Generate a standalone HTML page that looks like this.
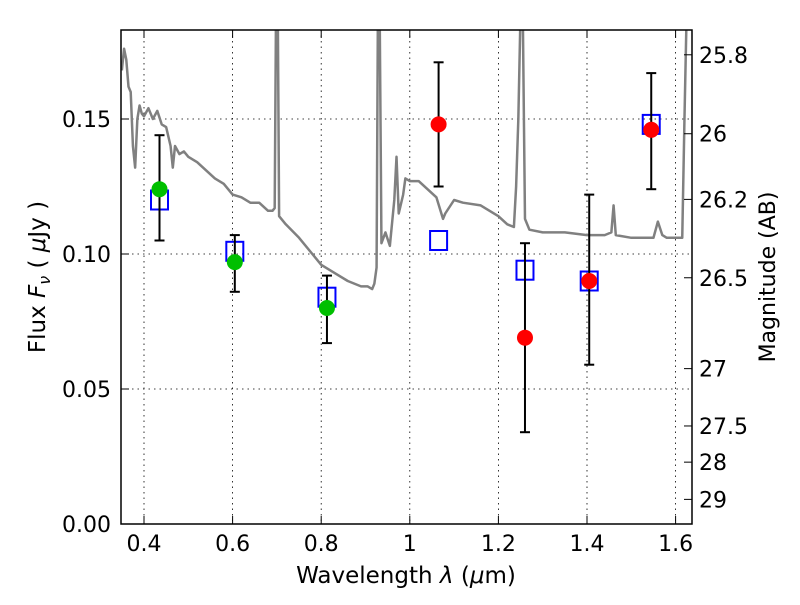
<!DOCTYPE html>
<html><head><meta charset="utf-8"><style>
body{margin:0;background:#fff}
svg text{font-family:"DejaVu Sans","Liberation Sans",sans-serif;fill:#000}
</style></head><body>
<svg id="chart" width="800" height="600" xmlns="http://www.w3.org/2000/svg">
<defs><clipPath id="clip"><rect x="121" y="30" width="571" height="494"/></clipPath></defs>
<g id="grid"></g>
<g id="spec" clip-path="url(#clip)"></g>
<g id="marks" clip-path="url(#clip)"></g>
<rect x="121" y="30" width="571" height="494" fill="none" stroke="#000" stroke-width="1.5"/>
<g id="axes"></g>
<text x="406" y="583" font-size="23" text-anchor="middle">Wavelength  <tspan font-style="italic">λ</tspan> (<tspan font-style="italic">μ</tspan>m)</text>
<text transform="translate(45,277) rotate(-90)" font-size="23" text-anchor="middle">Flux  <tspan font-style="italic">F</tspan><tspan font-style="italic" font-size="16" dy="5">ν</tspan><tspan dy="-5">  (  </tspan><tspan font-style="italic">μ</tspan>Jy )</text>
<text transform="translate(775,277) rotate(-90)" font-size="22" text-anchor="middle">Magnitude (AB)</text>
</svg>
<script>
const xTicks=[0.4,0.6,0.8,1.0,1.2,1.4,1.6];
const xTickLabels=["0.4","0.6","0.8","1","1.2","1.4","1.6"];
const yTicks=[0,0.05,0.10,0.15];
const yTickLabels=["0.00","0.05","0.10","0.15"];
const magTicks=[25.8,26,26.2,26.5,27,27.5,28,29];
const magTickLabels=["25.8","26","26.2","26.5","27","27.5","28","29"];
const specWave=[0.35,0.355,0.36,0.365,0.37,0.375,0.38,0.385,0.39,0.395,0.40,0.41,0.42,0.43,0.44,0.45,0.46,0.465,0.47,0.48,0.49,0.50,0.52,0.54,0.56,0.58,0.60,0.62,0.64,0.66,0.68,0.69,0.695,0.698,0.702,0.705,0.72,0.75,0.78,0.80,0.83,0.86,0.89,0.905,0.915,0.92,0.925,0.928,0.932,0.936,0.945,0.955,0.965,0.97,0.975,0.985,0.99,1.0,1.02,1.04,1.06,1.075,1.08,1.10,1.12,1.16,1.20,1.22,1.235,1.24,1.245,1.25,1.255,1.26,1.27,1.30,1.35,1.40,1.44,1.455,1.46,1.465,1.50,1.55,1.56,1.57,1.58,1.615,1.62,1.625];
const specFlux=[0.168,0.176,0.172,0.162,0.160,0.140,0.132,0.150,0.155,0.152,0.151,0.154,0.150,0.153,0.148,0.147,0.140,0.132,0.140,0.137,0.138,0.136,0.134,0.131,0.128,0.126,0.122,0.121,0.119,0.119,0.116,0.116,0.117,0.19,0.19,0.114,0.111,0.106,0.100,0.096,0.093,0.090,0.088,0.088,0.087,0.089,0.095,0.19,0.19,0.104,0.108,0.103,0.120,0.136,0.115,0.122,0.128,0.127,0.127,0.124,0.121,0.113,0.115,0.120,0.119,0.118,0.114,0.111,0.110,0.125,0.150,0.19,0.19,0.113,0.109,0.108,0.108,0.107,0.107,0.108,0.118,0.107,0.106,0.106,0.112,0.107,0.106,0.106,0.150,0.19];
const greenWave=[0.435,0.605,0.813];
const greenFlux=[0.124,0.097,0.080];
const redWave=[1.065,1.26,1.405,1.545];
const redFlux=[0.148,0.069,0.090,0.146];
const errWave=[0.435,0.605,0.813,1.065,1.26,1.405,1.545];
const errLow=[0.105,0.086,0.067,0.125,0.034,0.059,0.124];
const errHigh=[0.144,0.107,0.092,0.171,0.104,0.122,0.167];
const modelWave=[0.435,0.605,0.813,1.065,1.26,1.405,1.545];
const modelFlux=[0.120,0.101,0.084,0.105,0.094,0.090,0.148];

const X=w=>144+(w-0.4)*443;
const Y=f=>524-f*2700;
const M=m=>Y(Math.pow(10,(23.9-m)/2.5));
const NS="http://www.w3.org/2000/svg";
function mk(tag,parent,attrs){const e=document.createElementNS(NS,tag);for(const k in attrs)e.setAttribute(k,attrs[k]);parent.appendChild(e);return e;}
const grid=document.getElementById('grid'),axes=document.getElementById('axes'),spec=document.getElementById('spec'),marks=document.getElementById('marks');
xTicks.forEach((t,i)=>{
  const g=mk('line',grid,{x1:X(t),x2:X(t),y1:30,y2:524,stroke:'#000','stroke-width':0.8,'stroke-dasharray':'1.5,4'});
  
  
  mk('line',axes,{x1:X(t),x2:X(t),y1:524,y2:516,stroke:'#000'});
  mk('line',axes,{x1:X(t),x2:X(t),y1:30,y2:38,stroke:'#000'});
  const l=mk('text',axes,{x:X(t),y:551,'font-size':22,'text-anchor':'middle'});l.textContent=xTickLabels[i];
  
  
});
yTicks.forEach((t,i)=>{
  const g=mk('line',grid,{x1:121,x2:692,y1:Y(t),y2:Y(t),stroke:'#000','stroke-width':0.8,'stroke-dasharray':'1.5,4'});
  
  
  mk('line',axes,{x1:121,x2:129,y1:Y(t),y2:Y(t),stroke:'#000'});
  const l=mk('text',axes,{x:111,y:Y(t)+8,'font-size':22,'text-anchor':'end'});l.textContent=yTickLabels[i];
  
  
});
magTicks.forEach((m,i)=>{
  mk('line',axes,{x1:692,x2:684,y1:M(m),y2:M(m),stroke:'#000'});
  const l=mk('text',axes,{x:699,y:M(m)+8,'font-size':22});l.textContent=magTickLabels[i];
  
  
});
const p=mk('polyline',spec,{points:specWave.map((w,i)=>X(w)+','+Y(specFlux[i])).join(' '),fill:'none',stroke:'#808080','stroke-width':2.5,'stroke-linejoin':'round'});


modelWave.forEach((w,i)=>{
  const r=mk('rect',marks,{x:X(w)-8.5,y:Y(modelFlux[i])-9.5,width:17,height:19,fill:'none',stroke:'#0000ff','stroke-width':2});
  
  
});
errWave.forEach((w,i)=>{
  const x=X(w);
  const e=mk('g',marks,{stroke:'#000','stroke-width':2});
  
  
  mk('line',e,{x1:x,x2:x,y1:Y(errLow[i]),y2:Y(errHigh[i])});
  mk('line',e,{x1:x-5,x2:x+5,y1:Y(errLow[i]),y2:Y(errLow[i])});
  mk('line',e,{x1:x-5,x2:x+5,y1:Y(errHigh[i]),y2:Y(errHigh[i])});
});
greenWave.forEach((w,i)=>{
  const c=mk('circle',marks,{cx:X(w),cy:Y(greenFlux[i]),r:8,fill:'#00bf00'});
  
  
});
redWave.forEach((w,i)=>{
  const c=mk('circle',marks,{cx:X(w),cy:Y(redFlux[i]),r:8,fill:'#ff0000'});
  
  
});
</script>
</body></html>
